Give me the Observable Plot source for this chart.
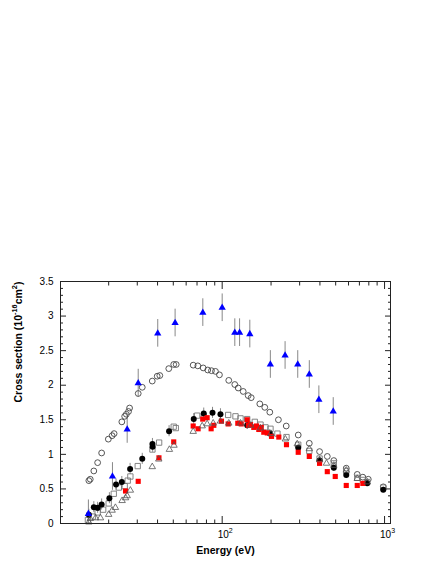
<!DOCTYPE html>
<html><head><meta charset="utf-8">
<script src="https://cdn.jsdelivr.net/npm/d3@7"></script>
<script src="https://cdn.jsdelivr.net/npm/@observablehq/plot@0.6"></script>
<style>body{margin:0;background:#fff}</style>
</head><body><div id="chart"></div>
<script>
// Blue filled triangles with error bars
const blueE = [15.0, 21.1, 26.0, 30.4, 40.1, 51.3, 76, 100, 119.6, 128, 148, 198, 244, 292, 344, 394, 483];
const blueV = [0.14, 0.68, 1.36, 2.03, 2.75, 2.90, 3.05, 3.12, 2.76, 2.76, 2.74, 2.30, 2.43, 2.30, 2.155, 1.79, 1.62];
const blueErr = [0.2, 0.2, 0.2, 0.2, 0.2, 0.2, 0.2, 0.2, 0.2, 0.2, 0.2, 0.2, 0.2, 0.2, 0.2, 0.2, 0.2];
// Open circles (upper curve)
const circE = [15.1, 15.4, 16.2, 17.1, 18.1, 19.9, 21.0, 21.6, 24.1, 25.1, 25.7, 26.5, 26.9, 30.4, 32.2, 37.1, 39.8, 41.3, 46.9, 50.3, 52.1, 66.3, 70.8, 76.4, 81.5, 85.9, 90.9, 96.2, 109.8, 119.6, 125.5, 134.7, 144.6, 150.9, 170.5, 183, 196.5, 222, 248, 294, 344, 398, 444, 487, 581, 679, 735, 794, 982];
const circV = [0.62, 0.64, 0.76, 0.88, 1.02, 1.22, 1.27, 1.30, 1.47, 1.55, 1.58, 1.62, 1.67, 1.88, 1.97, 2.06, 2.13, 2.14, 2.24, 2.30, 2.30, 2.29, 2.28, 2.25, 2.22, 2.21, 2.20, 2.15, 2.07, 2.01, 1.96, 1.91, 1.85, 1.82, 1.73, 1.68, 1.61, 1.50, 1.41, 1.28, 1.16, 1.04, 0.97, 0.91, 0.80, 0.71, 0.67, 0.64, 0.53];
// Black filled circles
const blackE = [15.1, 16.2, 17.1, 18.1, 20.2, 22.2, 24.1, 27.1, 32.2, 37.2, 37.3, 47.1, 66.8, 77.0, 87.2, 97.6, 142.6, 196.5, 294, 398, 487, 581, 782, 982];
const blackV = [0.126, 0.236, 0.227, 0.275, 0.366, 0.564, 0.60, 0.79, 0.935, 1.15, 1.11, 1.335, 1.51, 1.59, 1.60, 1.58, 1.42, 1.30, 1.095, 0.91, 0.805, 0.70, 0.583, 0.487];
const blackErr = [0.08, 0.08, 0.08, 0.08, 0.08, 0.08, 0.08, 0.08, 0.08, 0.08, 0.08, 0.08, 0.08, 0.08, 0.08, 0.08, 0.06, 0.06, 0.05, 0.05, 0.05, 0.05, 0.04, 0.04];
// Open squares
const sqE = [14.9, 16.0, 17.1, 18.5, 20.0, 21.5, 23.1, 25.1, 26.2, 27.2, 30.2, 37.2, 40.9, 50.3, 51.8, 70.1, 77.0, 108.9, 120.8, 129.7, 142.6, 158.8, 172.2, 184.8, 198.4, 219, 249, 294, 344, 398, 487, 581, 679, 735, 782, 982];
const sqV = [0.05, 0.10, 0.16, 0.20, 0.29, 0.43, 0.52, 0.54, 0.62, 0.68, 0.83, 1.07, 1.17, 1.40, 1.38, 1.56, 1.55, 1.57, 1.55, 1.52, 1.51, 1.47, 1.43, 1.39, 1.37, 1.30, 1.25, 1.14, 1.05, 0.94, 0.87, 0.76, 0.66, 0.63, 0.60, 0.52];
// Open triangles
const triE = [15.1, 15.4, 16.6, 17.8, 20.0, 21.0, 22.0, 24.2, 25.4, 26.0, 27.2, 37.1, 40.7, 47.3, 50.5, 66.3, 75.3, 80.8, 88.0, 97.6, 109.8, 129.7, 150, 172, 200, 245, 290, 344, 398, 439, 487, 581, 679, 782];
const triV = [0.02, 0.07, 0.08, 0.08, 0.13, 0.19, 0.23, 0.33, 0.37, 0.40, 0.48, 0.82, 0.93, 1.07, 1.13, 1.33, 1.41, 1.44, 1.45, 1.48, 1.45, 1.45, 1.42, 1.38, 1.30, 1.22, 1.15, 1.08, 0.92, 0.87, 0.84, 0.77, 0.65, 0.60];
// Red filled squares
const redE = [25.4, 30.4, 40.8, 50.3, 66.3, 71.1, 75.9, 80.8, 85.5, 88.8, 99.0, 108.9, 124.8, 131, 142.6, 145, 149.4, 156.6, 162.7, 168.1, 173.9, 180.4, 189.4, 201.3, 223.3, 248.9, 294, 344, 398, 444, 497, 581, 679, 735];
const redV = [0.47, 0.61, 0.95, 1.18, 1.41, 1.37, 1.51, 1.53, 1.37, 1.42, 1.48, 1.44, 1.45, 1.44, 1.50, 1.42, 1.43, 1.39, 1.41, 1.36, 1.39, 1.32, 1.31, 1.26, 1.25, 1.14, 1.03, 0.97, 0.87, 0.75, 0.68, 0.55, 0.55, 0.58];

// Axis ticks and labels
const yMajor = [0, 0.5, 1, 1.5, 2, 2.5, 3, 3.5];
const yLabels = ["0", "0.5", "1", "1.5", "2", "2.5", "3", "3.5"];
const yMinor = [0.1,0.2,0.3,0.4,0.6,0.7,0.8,0.9,1.1,1.2,1.3,1.4,1.6,1.7,1.8,1.9,2.1,2.2,2.3,2.4,2.6,2.7,2.8,2.9,3.1,3.2,3.3,3.4];
const xMajor = [100, 1000];
const xLabels = ["10\u00B2", "10\u00B3"];
const xMinor = [20, 30, 40, 50, 60, 70, 80, 90, 200, 300, 400, 500, 600, 700, 800, 900];
const xTitle = "Energy (eV)";
const yTitle = "Cross section (10\u207B\u00B9\u2076cm\u00B2)";

const rows = (E, V, err) => E.map((e, i) => ({e, v: V[i], err: err ? err[i] : 0}));
const blue = rows(blueE, blueV, blueErr);
const circ = rows(circE, circV);
const black = rows(blackE, blackV, blackErr);
const sq = rows(sqE, sqV);
const tri = rows(triE, triV);
const red = rows(redE, redV);

const axisCol = "#222";
const chart = Plot.plot({
  width: 436, height: 564,
  marginLeft: 60, marginRight: 46, marginTop: 281, marginBottom: 41,
  x: {type: "log", domain: [10.1, 1088]},
  y: {domain: [0, 3.5]},
  style: {fontFamily: "'Liberation Sans', Arial, Helvetica, sans-serif", fontSize: "10px", color: "#000", background: "#fff"},
  marks: [
    // error bars
    Plot.ruleX(black, {x: "e", y1: d => d.v - d.err, y2: d => d.v + d.err, stroke: "#888", strokeWidth: 1}),
    Plot.ruleX(blue, {x: "e", y1: d => Math.max(0, d.v - d.err), y2: d => d.v + d.err, stroke: "#888", strokeWidth: 1}),
    // series
    Plot.dot(circ, {x: "e", y: "v", symbol: "circle", r: 2.9, stroke: "#444", strokeWidth: 0.9, fill: "none"}),
    Plot.dot(sq, {x: "e", y: "v", symbol: "square", r: 3.0, stroke: "#777", strokeWidth: 0.9, fill: "none"}),
    Plot.dot(black, {x: "e", y: "v", symbol: "circle", r: 3.0, fill: "#000", stroke: "none"}),
    Plot.dot(red, {x: "e", y: "v", symbol: "square", r: 2.9, fill: "#ff0000", stroke: "none"}),
    Plot.dot(tri, {x: "e", y: "v", symbol: "triangle", r: 2.4, stroke: "#555", strokeWidth: 0.8, fill: "none"}),
    Plot.dot(blue, {x: "e", y: "v", symbol: "triangle", r: 2.7, fill: "#0000ff", stroke: "none"}),
    // frame and ticks
    Plot.frame({stroke: axisCol, strokeWidth: 1}),
    Plot.axisY({ticks: yMajor, anchor: "left", tickSize: -6, tickFormat: () => "", label: null, stroke: axisCol}),
    Plot.axisY({ticks: yMinor, anchor: "left", tickSize: -3, tickFormat: () => "", label: null, stroke: axisCol}),
    Plot.axisY({ticks: yMajor, anchor: "right", tickSize: -6, tickFormat: () => "", label: null, stroke: axisCol}),
    Plot.axisY({ticks: yMinor, anchor: "right", tickSize: -3, tickFormat: () => "", label: null, stroke: axisCol}),
    Plot.axisY({ticks: yMajor, anchor: "left", tickSize: 0, tickPadding: 7, tickFormat: d => yLabels[yMajor.indexOf(d)], label: null, fontSize: 10, fill: "#000"}),
    Plot.axisX({ticks: xMajor, anchor: "bottom", tickSize: -7, tickFormat: () => "", label: null, stroke: axisCol}),
    Plot.axisX({ticks: xMinor, anchor: "bottom", tickSize: -3.5, tickFormat: () => "", label: null, stroke: axisCol}),
    Plot.axisX({ticks: xMajor, anchor: "top", tickSize: -7, tickFormat: () => "", label: null, stroke: axisCol}),
    Plot.axisX({ticks: xMinor, anchor: "top", tickSize: -3.5, tickFormat: () => "", label: null, stroke: axisCol}),
    Plot.axisX({ticks: xMajor, anchor: "bottom", tickSize: 0, tickPadding: 7, dx: 3, tickFormat: d => xLabels[xMajor.indexOf(d)], label: null, fontSize: 10, fill: "#000"}),
    // titles
    Plot.text([xTitle], {text: d => d, frameAnchor: "bottom", dy: 30, fontWeight: "bold", fontSize: 10.5, fill: "#000"}),
    Plot.text([yTitle], {text: d => d, frameAnchor: "left", dx: -42, rotate: -90, fontWeight: "bold", fontSize: 10.5, fill: "#000"})
  ]
});
document.getElementById("chart").append(chart);

// Turn unicode superscript characters into real superscript tspans
const supMap = {"\u207B": "-", "\u00B9": "1", "\u00B2": "2", "\u00B3": "3", "\u2076": "6"};
const NS = "http://www.w3.org/2000/svg";
chart.querySelectorAll("text").forEach(t => {
  const s = t.textContent;
  if (![...s].some(c => supMap[c])) return;
  const fs = parseFloat(t.getAttribute("font-size") || getComputedStyle(t).fontSize) || 10;
  const runs = [];
  for (const c of s) {
    const sup = !!supMap[c];
    const ch = sup ? supMap[c] : c;
    if (runs.length && runs[runs.length - 1].sup === sup) runs[runs.length - 1].txt += ch;
    else runs.push({sup, txt: ch});
  }
  while (t.firstChild) t.removeChild(t.firstChild);
  let raised = false;
  const shift = fs * 0.42;
  runs.forEach(r => {
    const ts = document.createElementNS(NS, "tspan");
    ts.textContent = r.txt;
    if (r.sup) {
      ts.setAttribute("font-size", (fs * 0.7).toFixed(2));
      if (!raised) { ts.setAttribute("dy", (-shift).toFixed(2)); raised = true; }
    } else if (raised) {
      ts.setAttribute("dy", shift.toFixed(2)); raised = false;
    }
    t.appendChild(ts);
  });
});
</script>
</body></html>
